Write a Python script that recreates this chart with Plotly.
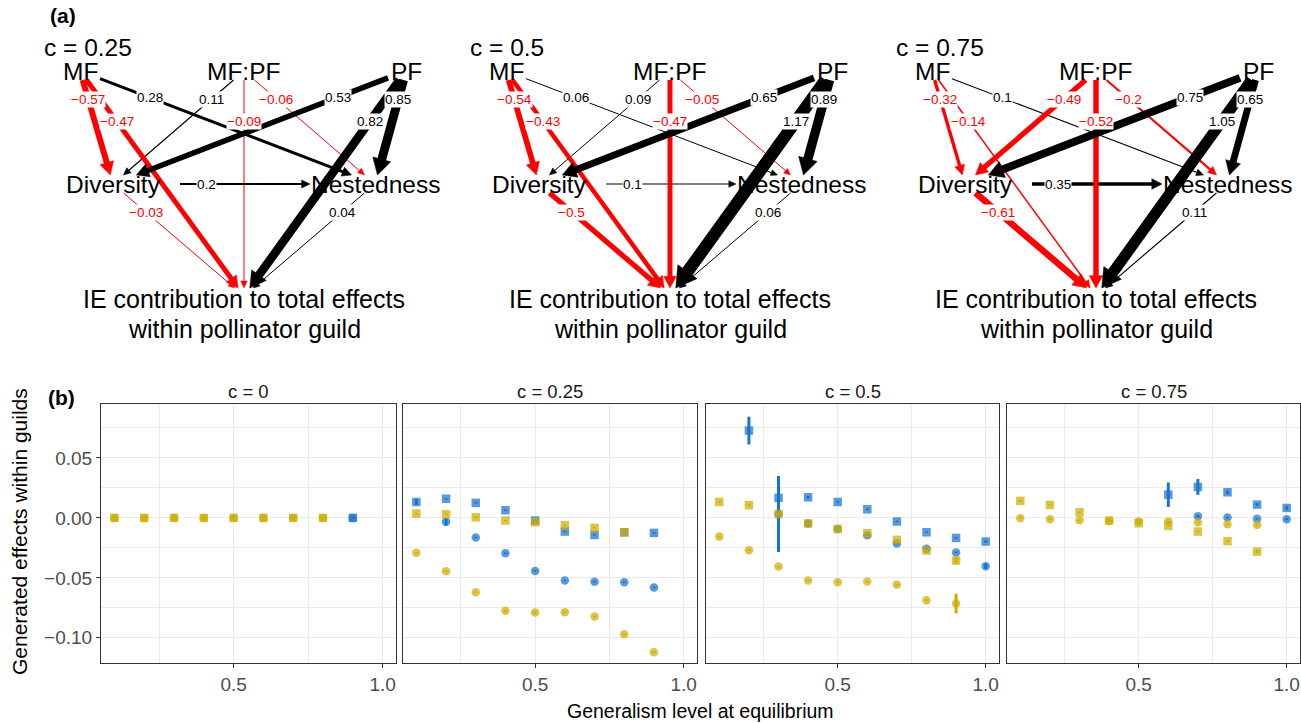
import math
import plotly.graph_objects as go

W, H = 1301, 723
FONT = "Liberation Sans, Arial, Helvetica, sans-serif"

# ---------------- panel (a) data: path coefficients ----------------
diagram_titles = ["c = 0.25", "c = 0.5", "c = 0.75"]
edge_from = ["MF", "MF", "MF", "MF:PF", "MF:PF", "MF:PF", "PF", "PF", "PF",
             "Diversity", "Diversity", "Nestedness"]
edge_to = ["Diversity", "Nestedness", "IE", "Diversity", "Nestedness", "IE",
           "Diversity", "Nestedness", "IE", "Nestedness", "IE", "IE"]
coef_c025 = [-0.57, 0.28, -0.47, 0.11, -0.06, -0.09, 0.53, 0.85, 0.82, 0.2, -0.03, 0.04]
coef_c050 = [-0.54, 0.06, -0.43, 0.09, -0.05, -0.47, 0.65, 0.89, 1.17, 0.1, -0.5, 0.06]
coef_c075 = [-0.32, 0.1, -0.14, -0.49, -0.2, -0.52, 0.75, 0.65, 1.05, 0.35, -0.61, 0.11]
node_names = ["MF", "MF:PF", "PF", "Diversity", "Nestedness"]
ie_lines = ["IE contribution to total effects", "within pollinator guild"]

# ---------------- panel (b) data ----------------
facet_titles = ["c = 0", "c = 0.25", "c = 0.5", "c = 0.75"]

blue_circle_x = [[0.9],
                 [0.2, 0.3, 0.4, 0.5, 0.6, 0.7, 0.8, 0.9],
                 [0.3, 0.4, 0.5, 0.6, 0.7, 0.8, 0.9, 1.0],
                 [0.7, 0.8, 0.9, 1.0]]
blue_circle_y = [[0.0],
                 [-0.0033, -0.0164, -0.0295, -0.0442, -0.0522, -0.0533, -0.0536, -0.058],
                 [0.0033, -0.0047, -0.0092, -0.0144, -0.0214, -0.0258, -0.0289, -0.0403],
                 [0.0014, 0.0003, -0.0008, -0.0011]]
blue_circle_e = [[0.0005],
                 [0.0028, 0.0006, 0.0006, 0.0006, 0.0006, 0.0006, 0.0006, 0.0006],
                 [0.0317, 0.0015, 0.001, 0.0006, 0.0006, 0.0006, 0.0008, 0.0022],
                 [0.0012, 0.0006, 0.0006, 0.0008]]

blue_square_x = [[0.9],
                 [0.1, 0.2, 0.3, 0.4, 0.5, 0.6, 0.7, 0.8, 0.9],
                 [0.2, 0.3, 0.4, 0.5, 0.6, 0.7, 0.8, 0.9, 1.0],
                 [0.6, 0.7, 0.8, 0.9, 1.0]]
blue_square_y = [[0.0],
                 [0.0133, 0.016, 0.0125, 0.0064, -0.0022, -0.0114, -0.0142, -0.012, -0.0125],
                 [0.0728, 0.0167, 0.0172, 0.0133, 0.0072, -0.003, -0.012, -0.0167, -0.0197],
                 [0.0194, 0.0258, 0.0214, 0.0111, 0.0083]]
blue_square_e = [[0.0005],
                 [0.0025, 0.0006, 0.0006, 0.0006, 0.0006, 0.0006, 0.0006, 0.0006, 0.0006],
                 [0.0116, 0.0006, 0.0012, 0.0008, 0.0006, 0.0006, 0.0006, 0.0006, 0.001],
                 [0.0102, 0.0066, 0.0015, 0.0012, 0.0015]]

yellow_circle_x = [[0.1, 0.2, 0.3, 0.4, 0.5, 0.6, 0.7, 0.8],
                   [0.1, 0.2, 0.3, 0.4, 0.5, 0.6, 0.7, 0.8, 0.9],
                   [0.1, 0.2, 0.3, 0.4, 0.5, 0.6, 0.7, 0.8, 0.9],
                   [0.1, 0.2, 0.3, 0.4, 0.5, 0.6, 0.7, 0.8, 0.9]]
yellow_circle_y = [[0.0, 0.0, 0.0, 0.0, 0.0, 0.0, 0.0, 0.0],
                   [-0.029, -0.0445, -0.062, -0.0775, -0.0789, -0.0786, -0.0822, -0.097, -0.112],
                   [-0.0156, -0.0269, -0.0406, -0.0522, -0.0536, -0.0531, -0.0558, -0.0686, -0.0714],
                   [-0.0003, -0.0011, -0.0019, -0.0025, -0.003, -0.003, -0.0039, -0.0053, -0.0058]]
yellow_circle_e = [[0.0005] * 8,
                   [0.0006] * 9,
                   [0.0006, 0.0006, 0.0006, 0.0006, 0.0006, 0.0006, 0.0006, 0.0006, 0.0082],
                   [0.0006] * 9]

yellow_square_x = [[0.1, 0.2, 0.3, 0.4, 0.5, 0.6, 0.7, 0.8],
                   [0.1, 0.2, 0.3, 0.4, 0.5, 0.6, 0.7, 0.8],
                   [0.1, 0.2, 0.3, 0.4, 0.5, 0.6, 0.7, 0.8, 0.9],
                   [0.1, 0.2, 0.3, 0.4, 0.5, 0.6, 0.7, 0.8, 0.9]]
yellow_square_y = [[0.0, 0.0, 0.0, 0.0, 0.0, 0.0, 0.0, 0.0],
                   [0.0036, 0.003, 0.0005, -0.0022, -0.0036, -0.0061, -0.0083, -0.012],
                   [0.0133, 0.0106, 0.0033, -0.0047, -0.0092, -0.0128, -0.0183, -0.0272, -0.0356],
                   [0.0142, 0.0108, 0.0047, -0.0022, -0.0044, -0.0067, -0.0114, -0.0194, -0.0281]]
yellow_square_e = [[0.0005] * 8,
                   [0.0006] * 8,
                   [0.0006, 0.0006, 0.0006, 0.0006, 0.0006, 0.0006, 0.0006, 0.0006, 0.0025],
                   [0.0006, 0.0006, 0.0006, 0.0006, 0.0006, 0.0006, 0.0006, 0.0006, 0.0015]]

y_ticks = [-0.1, -0.05, 0.0, 0.05]
y_ticktext = ["\u22120.10", "\u22120.05", "0.00", "0.05"]
x_ticks = [0.5, 1.0]
x_ticktext = ["0.5", "1.0"]

# ---------------- layout constants ----------------
BLUE = "#1874CD"
YELLOW = "#CDAD00"
RED = "#FF0000"
BLACK = "#000000"
node_xy = {"MF": (80, 71), "MF:PF": (244, 71), "PF": (406, 71),
           "Diversity": (113, 184), "Nestedness": (375, 184), "IE": (244, 296)}
node_half = {"MF": (20, 9), "MF:PF": (37, 9), "PF": (18, 9),
             "Diversity": (67, 9), "Nestedness": (65, 9), "IE": (165, 8)}
panel_dx = [0, 426, 852]
TOP_H = 360


def clip_t(half, dx, dy):
    hw, hh = half
    tx = hw / abs(dx) if abs(dx) > 1e-9 else float("inf")
    ty = hh / abs(dy) if abs(dy) > 1e-9 else float("inf")
    return min(tx, ty)


def fmt(v):
    return f"{v:g}".replace("-", "\u2212")


def ann(**kw):
    d = dict(showarrow=False, xanchor="center", yanchor="middle")
    d.update(kw)
    return d


fig = go.Figure()
annotations = []

# ----- path diagrams -----
for p, coefs in enumerate([coef_c025, coef_c050, coef_c075]):
    ox = panel_dx[p]
    order = sorted(range(len(coefs)), key=lambda i: abs(coefs[i]))
    labels = []
    for i in order:
        a, b, w = edge_from[i], edge_to[i], coefs[i]
        ax_, ay_ = node_xy[a]
        bx_, by_ = node_xy[b]
        ax_ += ox
        bx_ += ox
        dx, dy = bx_ - ax_, by_ - ay_
        ta = clip_t(node_half[a], dx, dy)
        tb = clip_t(node_half[b], dx, dy)
        sx, sy = ax_ + ta * dx, ay_ + ta * dy
        ex, ey = bx_ - tb * dx, by_ - tb * dy
        L = math.hypot(ex - sx, ey - sy)
        ux, uy = (ex - sx) / L, (ey - sy) / L
        col = RED if w < 0 else BLACK
        lw = max(1.0, 10.5 * abs(w))
        hl = 6 + 12 * abs(w)
        hw = 5 + 16 * abs(w)
        hbx, hby = ex - hl * ux, ey - hl * uy
        fig.add_trace(go.Scatter(x=[sx, hbx + ux * 0.5], y=[sy, hby + uy * 0.5], mode="lines",
                                 line=dict(color=col, width=lw),
                                 xaxis="x5", yaxis="y5", hoverinfo="skip", showlegend=False))
        nx, ny = -uy, ux
        fig.add_trace(go.Scatter(x=[ex, hbx + nx * hw / 2, hbx - nx * hw / 2, ex],
                                 y=[ey, hby + ny * hw / 2, hby - ny * hw / 2, ey],
                                 mode="lines", fill="toself", fillcolor=col,
                                 line=dict(color=col, width=0.5),
                                 xaxis="x5", yaxis="y5", hoverinfo="skip", showlegend=False))
        labels.append(ann(x=sx + 0.2 * (ex - sx), y=sy + 0.2 * (ey - sy), xref="x5", yref="y5",
                          text=fmt(w), bgcolor="white", borderpad=0,
                          font=dict(family=FONT, size=13.5, color=col)))
    annotations.extend(labels)
    for n in node_names:
        x, y = node_xy[n]
        annotations.append(ann(x=x + ox, y=y, xref="x5", yref="y5", text=n,
                               font=dict(family=FONT, size=24.5, color="black")))
    annotations.append(ann(x=node_xy["IE"][0] + ox, y=299, xref="x5", yref="y5", text=ie_lines[0],
                           font=dict(family=FONT, size=25, color="black")))
    annotations.append(ann(x=node_xy["IE"][0] + ox, y=329, xref="x5", yref="y5", text=ie_lines[1],
                           font=dict(family=FONT, size=25, color="black")))
    annotations.append(ann(x=42 + ox, y=47, xref="x5", yref="y5", text=diagram_titles[p],
                           xanchor="left", font=dict(family=FONT, size=24.5, color="black")))

# ----- facet scatter -----
series = [
    (blue_circle_x, blue_circle_y, blue_circle_e, BLUE, "circle"),
    (blue_square_x, blue_square_y, blue_square_e, BLUE, "square"),
    (yellow_circle_x, yellow_circle_y, yellow_circle_e, YELLOW, "circle"),
    (yellow_square_x, yellow_square_y, yellow_square_e, YELLOW, "square"),
]
for k in range(4):
    xa = "x" if k == 0 else f"x{k + 1}"
    ya = "y" if k == 0 else f"y{k + 1}"
    for xs, ys, es, col, sym in series:
        fig.add_trace(go.Scatter(
            x=xs[k], y=ys[k], mode="markers", xaxis=xa, yaxis=ya,
            marker=dict(symbol=sym, size=8.5, color=col, opacity=0.72, line=dict(width=0)),
            error_y=dict(type="data", array=es[k], visible=True, color=col, thickness=3, width=0),
            hoverinfo="skip", showlegend=False))

layout = dict(width=W, height=H, margin=dict(l=0, r=0, t=0, b=0),
              plot_bgcolor="white", paper_bgcolor="white", showlegend=False)

dom_x = [(101, 396), (403, 697), (706, 999), (1007, 1300)]
y_dom = [1 - 663 / H, 1 - 404 / H]
for k, (x0, x1) in enumerate(dom_x):
    xn = "xaxis" if k == 0 else f"xaxis{k + 1}"
    yn = "yaxis" if k == 0 else f"yaxis{k + 1}"
    layout[xn] = dict(domain=[x0 / W, x1 / W], range=[0.055, 1.045], anchor="y" if k == 0 else f"y{k + 1}",
                      tickvals=x_ticks, ticktext=x_ticktext, showgrid=True, gridcolor="#EBEBEB", gridwidth=1.3,
                      minor=dict(tickvals=[0.25, 0.75], showgrid=True, gridcolor="#EBEBEB", gridwidth=0.7, ticks=""),
                      showline=True, mirror=True, linecolor="#333333", linewidth=1.1,
                      ticks="outside", ticklen=4, tickwidth=1.1, tickcolor="#333333",
                      tickfont=dict(family=FONT, size=19, color="#4D4D4D"), zeroline=False, fixedrange=True)
    layout[yn] = dict(domain=y_dom, range=[-0.121, 0.095], anchor="x" if k == 0 else f"x{k + 1}",
                      tickvals=y_ticks, ticktext=y_ticktext, showgrid=True, gridcolor="#EBEBEB", gridwidth=1.3,
                      minor=dict(tickvals=[-0.075, -0.025, 0.025, 0.075], showgrid=True, gridcolor="#EBEBEB",
                                 gridwidth=0.7, ticks=""),
                      showline=True, mirror=True, linecolor="#333333", linewidth=1.1,
                      ticks="outside" if k == 0 else "", ticklen=4, tickwidth=1.1, tickcolor="#333333",
                      showticklabels=(k == 0),
                      tickfont=dict(family=FONT, size=19, color="#4D4D4D"), zeroline=False, fixedrange=True)
    annotations.append(ann(x=(x0 + x1) / 2 / W, y=1 - 391 / H, xref="paper", yref="paper",
                           text=facet_titles[k], font=dict(family=FONT, size=18.5, color="#1A1A1A")))

layout["xaxis5"] = dict(domain=[0, 1], range=[0, W], visible=False, anchor="y5", fixedrange=True)
layout["yaxis5"] = dict(domain=[1 - TOP_H / H, 1], range=[TOP_H, 0], visible=False, anchor="x5", fixedrange=True)

annotations.append(ann(x=700.5 / W, y=1 - 711 / H, xref="paper", yref="paper",
                       text="Generalism level at equilibrium",
                       font=dict(family=FONT, size=19.5, color="black")))
annotations.append(ann(x=19 / W, y=1 - 532 / H, xref="paper", yref="paper",
                       text="Generated effects within guilds", textangle=-90,
                       font=dict(family=FONT, size=21, color="black")))
annotations.append(ann(x=63 / W, y=1 - 15 / H, xref="paper", yref="paper", text="<b>(a)</b>",
                       font=dict(family=FONT, size=21, color="black")))
annotations.append(ann(x=61 / W, y=1 - 397 / H, xref="paper", yref="paper", text="<b>(b)</b>",
                       font=dict(family=FONT, size=21, color="black")))

layout["annotations"] = annotations
fig.update_layout(**layout)
fig.write_html("out.html")
